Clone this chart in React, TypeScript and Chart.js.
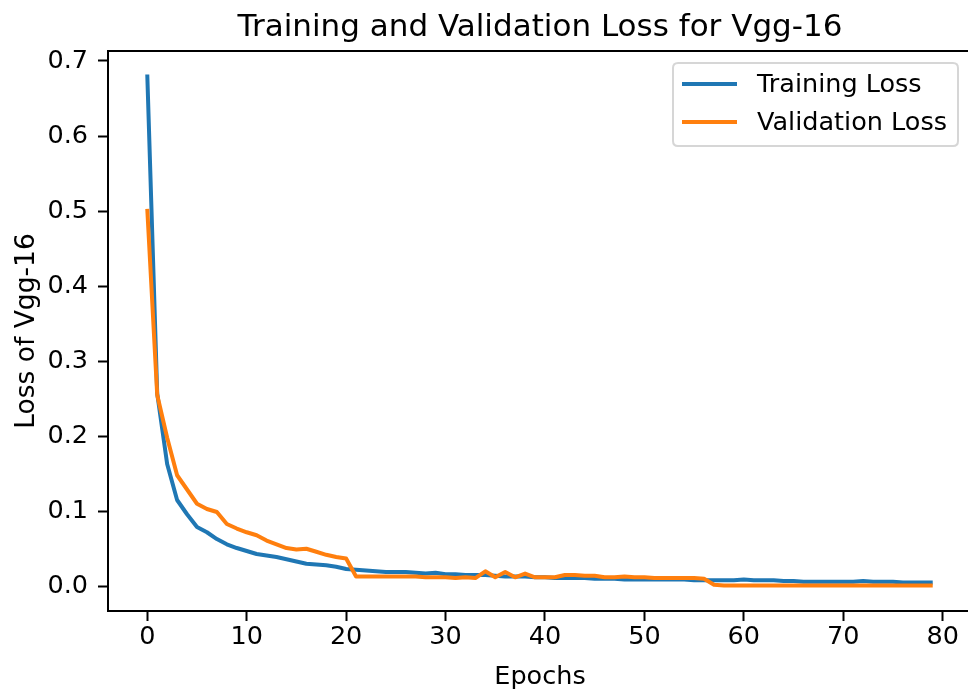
import React, { useEffect, useRef } from "react";
import { Chart, registerables } from "chart.js";

Chart.register(...registerables);

const chartTitle = "Training and Validation Loss for Vgg-16";
const xAxisTitle = "Epochs";
const yAxisTitle = "Loss of Vgg-16";
const seriesNames = ["Training Loss", "Validation Loss"];
const seriesColors = ["#1f77b4", "#ff7f0e"];

const trainingLoss = [
  0.682, 0.257, 0.163, 0.115, 0.096, 0.079, 0.072, 0.063, 0.056, 0.051,
  0.047, 0.043, 0.041, 0.039, 0.036, 0.033, 0.030, 0.029, 0.028, 0.026,
  0.023, 0.022, 0.021, 0.020, 0.019, 0.019, 0.019, 0.018, 0.017, 0.018,
  0.016, 0.016, 0.015, 0.015, 0.015, 0.014, 0.013, 0.013, 0.013, 0.012,
  0.012, 0.011, 0.011, 0.011, 0.011, 0.010, 0.010, 0.010, 0.009, 0.009,
  0.009, 0.009, 0.009, 0.009, 0.009, 0.008, 0.008, 0.008, 0.008, 0.008,
  0.009, 0.008, 0.008, 0.008, 0.007, 0.007, 0.006, 0.006, 0.006, 0.006,
  0.006, 0.006, 0.007, 0.006, 0.006, 0.006, 0.005, 0.005, 0.005, 0.005,
];

const validationLoss = [
  0.503, 0.255, 0.198, 0.148, 0.129, 0.110, 0.103, 0.099, 0.083, 0.077,
  0.072, 0.068, 0.061, 0.056, 0.051, 0.049, 0.050, 0.046, 0.042, 0.039,
  0.037, 0.013, 0.013, 0.013, 0.013, 0.013, 0.013, 0.013, 0.012, 0.012,
  0.012, 0.011, 0.012, 0.011, 0.020, 0.012, 0.019, 0.012, 0.017, 0.012,
  0.012, 0.012, 0.015, 0.015, 0.014, 0.014, 0.012, 0.012, 0.013, 0.012,
  0.012, 0.011, 0.011, 0.011, 0.011, 0.011, 0.010, 0.002, 0.001, 0.001,
  0.001, 0.001, 0.001, 0.001, 0.001, 0.001, 0.001, 0.001, 0.001, 0.001,
  0.001, 0.001, 0.001, 0.001, 0.001, 0.001, 0.001, 0.001, 0.001, 0.001,
];

const xTicks = [0, 10, 20, 30, 40, 50, 60, 70, 80];
const yTicks = [0.0, 0.1, 0.2, 0.3, 0.4, 0.5, 0.6, 0.7];

const FONT = "'DejaVu Sans', sans-serif";

const decorPlugin = {
  id: "decor",
  afterDraw(chart: any) {
    const { ctx, chartArea } = chart;
    const { left, right, top, bottom } = chartArea;
    ctx.save();
    // spines top/right
    ctx.strokeStyle = "#000";
    ctx.lineWidth = 2;
    ctx.beginPath();
    ctx.moveTo(left, top);
    ctx.lineTo(right, top);
    ctx.lineTo(right, bottom);
    ctx.stroke();

    ctx.fillStyle = "#000";
    // title
    ctx.font = `31px ${FONT}`;
    ctx.textAlign = "center";
    ctx.textBaseline = "alphabetic";
    ctx.fillText(chartTitle, (left + right) / 2, 36);
    // x title
    ctx.font = `25.5px ${FONT}`;
    ctx.fillText(xAxisTitle, (left + right) / 2, 684);
    // y title
    ctx.save();
    ctx.font = `26.5px ${FONT}`;
    ctx.translate(34, (top + bottom) / 2);
    ctx.rotate(-Math.PI / 2);
    ctx.fillText(yAxisTitle, 0, 0);
    ctx.restore();

    // legend
    const lx = 673, ly = 63, lw = 285, lh = 83, r = 5;
    ctx.beginPath();
    ctx.moveTo(lx + r, ly);
    ctx.lineTo(lx + lw - r, ly);
    ctx.quadraticCurveTo(lx + lw, ly, lx + lw, ly + r);
    ctx.lineTo(lx + lw, ly + lh - r);
    ctx.quadraticCurveTo(lx + lw, ly + lh, lx + lw - r, ly + lh);
    ctx.lineTo(lx + r, ly + lh);
    ctx.quadraticCurveTo(lx, ly + lh, lx, ly + lh - r);
    ctx.lineTo(lx, ly + r);
    ctx.quadraticCurveTo(lx, ly, lx + r, ly);
    ctx.closePath();
    ctx.fillStyle = "rgba(255,255,255,0.8)";
    ctx.fill();
    ctx.strokeStyle = "rgba(204,204,204,0.8)";
    ctx.lineWidth = 2;
    ctx.stroke();

    const rows = [84, 122];
    seriesNames.forEach((name, i) => {
      ctx.strokeStyle = seriesColors[i];
      ctx.lineWidth = 4;
      ctx.beginPath();
      ctx.moveTo(682, rows[i]);
      ctx.lineTo(737, rows[i]);
      ctx.stroke();
      ctx.fillStyle = "#000";
      ctx.font = `25.5px ${FONT}`;
      ctx.textAlign = "left";
      ctx.textBaseline = "middle";
      ctx.fillText(name, 757, rows[i] + 1);
    });
    ctx.restore();
  },
};

export default function App() {
  const canvasRef = useRef<HTMLCanvasElement | null>(null);

  useEffect(() => {
    const canvas = canvasRef.current;
    if (!canvas) return;
    const toPoints = (arr: number[]) => arr.map((v, i) => ({ x: i, y: v }));
    const chart = new Chart(canvas, {
      type: "line",
      data: {
        datasets: [
          {
            label: seriesNames[0],
            data: toPoints(trainingLoss),
            borderColor: seriesColors[0],
            backgroundColor: seriesColors[0],
            borderWidth: 4,
            pointRadius: 0,
            tension: 0,
            borderCapStyle: "butt",
            borderJoinStyle: "round",
            order: 1,
          },
          {
            label: seriesNames[1],
            data: toPoints(validationLoss),
            borderColor: seriesColors[1],
            backgroundColor: seriesColors[1],
            borderWidth: 4,
            pointRadius: 0,
            tension: 0,
            borderCapStyle: "butt",
            borderJoinStyle: "round",
            order: 0,
          },
        ],
      },
      options: {
        responsive: false,
        animation: false,
        devicePixelRatio: 1,
        layout: { padding: { top: 51, left: 0, right: 8, bottom: 0 } },
        plugins: {
          legend: { display: false },
          title: { display: false },
          tooltip: { enabled: false },
        },
        scales: {
          x: {
            type: "linear",
            min: -3.95,
            max: 82.95,
            afterBuildTicks: (scale: any) => {
              scale.ticks = xTicks.map((v) => ({ value: v }));
            },
            afterFit: (scale: any) => {
              scale.height = 81;
            },
            ticks: {
              color: "#000",
              font: { family: FONT, size: 25.5 },
              padding: 1,
              maxRotation: 0,
              autoSkip: false,
              callback: (v: any) => String(v),
            },
            grid: {
              display: true,
              drawOnChartArea: false,
              drawTicks: true,
              tickLength: 10,
              tickWidth: 2,
              tickColor: "#000",
              color: "#000",
            },
            border: { display: true, color: "#000", width: 2 },
          },
          y: {
            type: "linear",
            min: -0.0329,
            max: 0.7133,
            afterBuildTicks: (scale: any) => {
              scale.ticks = yTicks.map((v) => ({ value: v }));
            },
            afterFit: (scale: any) => {
              scale.width = 108;
            },
            ticks: {
              color: "#000",
              font: { family: FONT, size: 25.5 },
              padding: 10,
              autoSkip: false,
              callback: (v: any) => Number(v).toFixed(1),
            },
            grid: {
              display: true,
              drawOnChartArea: false,
              drawTicks: true,
              tickLength: 10,
              tickWidth: 2,
              tickColor: "#000",
              color: "#000",
            },
            border: { display: true, color: "#000", width: 2 },
          },
        },
      },
      plugins: [decorPlugin],
    });
    return () => chart.destroy();
  }, []);

  return (
    <div
      style={{
        position: "fixed",
        left: 0,
        top: 0,
        width: 968,
        height: 692,
        overflow: "hidden",
        background: "#fff",
      }}
    >
      <canvas ref={canvasRef} width={980} height={692} style={{ display: "block", width: 980, height: 692 }} />
    </div>
  );
}
